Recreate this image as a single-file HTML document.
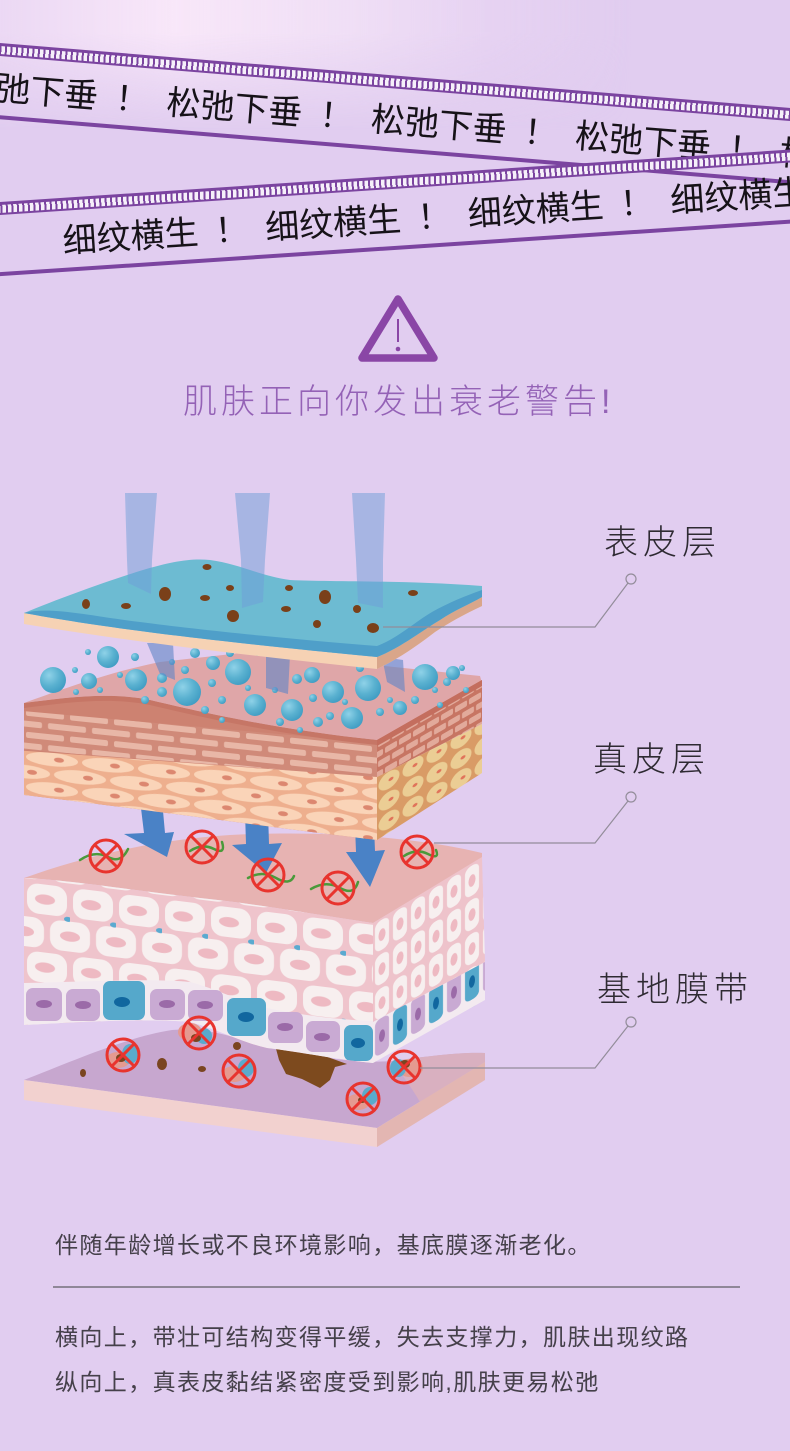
<!DOCTYPE html>
<html><head><meta charset="utf-8">
<style>
html,body{margin:0;padding:0;}
body{width:790px;height:1451px;position:relative;overflow:hidden;background:#e1cdf0;font-family:"Liberation Sans","Noto Sans CJK SC",sans-serif;}
.topglow{position:absolute;left:0;top:0;width:790px;height:130px;
background:linear-gradient(90deg,rgba(246,228,248,.5) 0%,rgba(249,232,249,.95) 22%,rgba(244,228,247,.75) 45%,rgba(236,216,244,.5) 62%,rgba(225,205,240,0) 80%);
-webkit-mask-image:linear-gradient(to bottom,#000 0%,#000 25%,transparent 100%);mask-image:linear-gradient(to bottom,#000 0%,#000 25%,transparent 100%);}
.band{position:absolute;left:-20px;width:860px;height:80px;transform-origin:20px 0;}
.stripe{position:absolute;left:0;top:0;width:100%;height:13px;background:#7b44a0;}
.stripe:after{content:"";position:absolute;left:0;top:2.5px;width:100%;height:8px;background:repeating-linear-gradient(90deg,#f6f0fa 0 3.5px,transparent 3.5px 5.5px);}
.bline{position:absolute;left:0;width:100%;height:4px;background:#7b44a0;}
.btxt{position:absolute;white-space:nowrap;font-size:34px;line-height:34px;height:34px;color:#161218;font-family:"Liberation Sans","Noto Sans CJK SC",sans-serif;}
.btxt span{display:inline-block;}
.w{width:136px;}
.ex{text-align:center;}
.t{position:absolute;white-space:nowrap;font-family:"Liberation Sans","Noto Sans CJK SC",sans-serif;}
.svg{position:absolute;left:0;top:0;}
</style></head>
<body>
<div class="topglow"></div>

<!-- band 1 -->
<div class="band" style="top:43px;transform:rotate(4.7deg);">
  <div class="stripe"></div>
  <div class="btxt" style="left:-14px;top:29px;"><span class="w">松弛下垂</span><span class="ex" style="width:69px">！</span><span class="w">松弛下垂</span><span class="ex" style="width:69px">！</span><span class="w">松弛下垂</span><span class="ex" style="width:69px">！</span><span class="w">松弛下垂</span><span class="ex" style="width:69px">！</span><span class="w">松弛下垂</span></div>
  <div class="bline" style="top:72px"></div>
</div>
<!-- band 2 -->
<div class="band" style="top:202px;transform:rotate(-3.8deg);">
  <div class="stripe"></div>
  <div class="btxt" style="left:80px;top:27px;"><span class="w">细纹横生</span><span class="ex" style="width:67px">！</span><span class="w">细纹横生</span><span class="ex" style="width:67px">！</span><span class="w">细纹横生</span><span class="ex" style="width:67px">！</span><span class="w">细纹横生</span></div>
  <div class="bline" style="top:70px"></div>
</div>

<svg class="svg" width="790" height="1451" viewBox="0 0 790 1451" xmlns="http://www.w3.org/2000/svg">
<defs>
  <radialGradient id="bub" cx="0.35" cy="0.32" r="0.75">
    <stop offset="0" stop-color="#8fd2e8"/><stop offset="0.55" stop-color="#5ab1d0"/><stop offset="1" stop-color="#3e9bc2"/>
  </radialGradient>
  <pattern id="wc" patternUnits="userSpaceOnUse" width="46" height="68" patternTransform="translate(24,880) skewY(7)">
    <rect width="46" height="68" fill="#efc4cc"/>
    <rect x="3" y="2" width="40" height="30" rx="11" fill="#f7efef"/>
    <ellipse cx="21" cy="17" rx="10" ry="5" fill="#eeb9c2"/>
    <rect x="-20" y="36" width="40" height="30" rx="11" fill="#f7efef"/>
    <rect x="26" y="36" width="40" height="30" rx="11" fill="#f7efef"/>
    <ellipse cx="0" cy="51" rx="10" ry="5" fill="#eeb9c2"/>
    <ellipse cx="46" cy="51" rx="10" ry="5" fill="#eeb9c2"/>
    <ellipse cx="44" cy="34" rx="4" ry="2.5" fill="#5aaad0"/>
  </pattern>
  <pattern id="rc" patternUnits="userSpaceOnUse" width="18" height="34" patternTransform="translate(373,923) skewY(-31)">
    <rect width="18" height="34" fill="#eec3cb"/>
    <rect x="2" y="2" width="14" height="30" rx="6" fill="#f7efef"/>
    <ellipse cx="9" cy="17" rx="3.5" ry="6" fill="#eeb9c2"/>
  </pattern>
  <pattern id="rp" patternUnits="userSpaceOnUse" width="36" height="44" patternTransform="translate(373,1021) skewY(-31)">
    <rect width="36" height="44" fill="#f3eaf0"/>
    <rect x="2" y="2" width="14" height="36" rx="5" fill="#c9aad3"/>
    <ellipse cx="9" cy="20" rx="3" ry="6" fill="#9b6aa8"/>
    <rect x="20" y="2" width="14" height="36" rx="5" fill="#55a8cb"/>
    <ellipse cx="27" cy="20" rx="3" ry="6" fill="#11679f"/>
  </pattern>
  <pattern id="br" patternUnits="userSpaceOnUse" width="44" height="22" patternTransform="translate(24,707) skewY(6)">
    <rect width="44" height="22" fill="#d08a79"/>
    <rect x="2" y="2.5" width="38" height="6" rx="2" fill="#e8b7a7"/>
    <rect x="-20" y="13.5" width="38" height="6" rx="2" fill="#e8b7a7"/>
    <rect x="24" y="13.5" width="38" height="6" rx="2" fill="#e8b7a7"/>
  </pattern>
  <pattern id="pc" patternUnits="userSpaceOnUse" width="56" height="30" patternTransform="translate(24,749) skewY(6)">
    <rect width="56" height="30" fill="#eeaf8e"/>
    <ellipse cx="28" cy="7.5" rx="26" ry="6.8" fill="#fad4b8"/>
    <ellipse cx="0" cy="22.5" rx="26" ry="6.8" fill="#fad4b8"/>
    <ellipse cx="56" cy="22.5" rx="26" ry="6.8" fill="#fad4b8"/>
    <ellipse cx="35" cy="7.5" rx="5" ry="2.4" fill="#dc8770"/>
    <ellipse cx="8" cy="22.5" rx="5" ry="2.4" fill="#dc8770"/>
  </pattern>
  <pattern id="brr" patternUnits="userSpaceOnUse" width="14" height="20" patternTransform="translate(377,740) skewY(-30)">
    <rect width="14" height="20" fill="#c77563"/>
    <rect x="1" y="2" width="12" height="6" rx="1.5" fill="#e2aa9b"/>
    <rect x="-6" y="12" width="12" height="6" rx="1.5" fill="#e2aa9b"/>
    <rect x="8" y="12" width="12" height="6" rx="1.5" fill="#e2aa9b"/>
  </pattern>
  <pattern id="yc" patternUnits="userSpaceOnUse" width="24" height="20" patternTransform="translate(377,777) skewY(-30)">
    <rect width="24" height="20" fill="#d99b66"/>
    <ellipse cx="12" cy="10" rx="10.5" ry="8.5" fill="#ebcd94"/>
    <ellipse cx="14" cy="10" rx="2.5" ry="1.6" fill="#e0735a"/>
  </pattern>
  <clipPath id="f3"><path d="M24,878 C70,880 130,890 200,898 C250,903 300,912 373,923 L373,1063 C340,1060 300,1052 267,1048 C240,1042 220,1030 190,1022 C150,1018 80,1022 24,1025 Z"/></clipPath>
  <clipPath id="f2"><path d="M24,703 C70,697 110,692 150,700 C200,712 280,730 377,740 L377,840 C260,826 120,806 24,795 Z"/></clipPath>
  <g id="nx">
    <circle r="16" fill="none" stroke="#e8342e" stroke-width="3"/>
    <line x1="-11" y1="-11" x2="11" y2="11" stroke="#e8342e" stroke-width="3"/>
    <line x1="-11" y1="11" x2="11" y2="-11" stroke="#e8342e" stroke-width="3"/>
  </g>
</defs>

<!-- warning triangle -->
<path d="M398,299 L362,358 L434,358 Z" fill="none" stroke="#8a46a6" stroke-width="7.5" stroke-linejoin="round"/>
<line x1="398" y1="319" x2="398" y2="342" stroke="#8a46a6" stroke-width="2"/>
<circle cx="398" cy="349" r="2.3" fill="#8a46a6"/>

<!-- LAYER 4 -->
<path d="M24,1080 C70,1062 130,1036 172,1030 C220,1026 250,1046 300,1054 C340,1060 365,1063 392,1061 C430,1056 460,1052 485,1053 L485,1062 L377,1128 Z" fill="#c7a7cf"/>
<path d="M392,1061 C430,1056 460,1052 485,1053 L485,1062 L420,1102 C410,1085 400,1072 392,1061 Z" fill="#d9b0c0"/>
<path d="M24,1080 L377,1128 L377,1147 L24,1100 Z" fill="#f2d1cf"/>
<path d="M377,1128 L485,1062 L485,1080 L377,1147 Z" fill="#e3b6b2"/>
<ellipse cx="83" cy="1073" rx="3" ry="4" fill="#7a4520"/>
<ellipse cx="162" cy="1064" rx="5" ry="6" fill="#7a4520"/>
<ellipse cx="202" cy="1069" rx="4" ry="3" fill="#7a4520"/>
<ellipse cx="237" cy="1046" rx="4" ry="4" fill="#7a4520"/>
<path d="M275,1045 L300,1047 L322,1055 L347,1064 L335,1067 L330,1080 L320,1088 L302,1079 L286,1074 L279,1060 Z" fill="#7d4a1e"/>

<!-- LAYER 3 -->
<path d="M24,878 C80,858 150,840 230,835 C330,830 420,838 482,853 L482,858 L373,923 C300,912 250,903 200,898 C130,890 70,880 24,878 Z" fill="#e7b3b2"/>
<g clip-path="url(#f3)">
  <rect x="20" y="870" width="360" height="200" fill="url(#wc)"/>
  <path d="M24,983 C80,982 150,978 190,982 C220,990 240,1002 267,1008 C300,1015 340,1020 373,1021 L373,1063 C340,1060 300,1052 267,1048 C240,1042 220,1030 190,1022 C150,1018 80,1022 24,1025 Z" fill="#f3eaf0"/>
  <g>
    <rect x="26" y="988" width="36" height="33" rx="7" fill="#c9aad3"/><ellipse cx="44" cy="1004" rx="8" ry="4" fill="#9b6aa8"/>
    <rect x="66" y="989" width="34" height="32" rx="7" fill="#c9aad3"/><ellipse cx="83" cy="1005" rx="8" ry="4" fill="#9b6aa8"/>
    <rect x="103" y="981" width="42" height="39" rx="7" fill="#55a8cb"/><ellipse cx="122" cy="1002" rx="8" ry="5" fill="#11679f"/>
    <rect x="150" y="989" width="35" height="31" rx="7" fill="#c9aad3"/><ellipse cx="167" cy="1004" rx="8" ry="4" fill="#9b6aa8"/>
    <rect x="188" y="990" width="35" height="31" rx="7" fill="#c9aad3"/><ellipse cx="205" cy="1005" rx="8" ry="4" fill="#9b6aa8"/>
    <rect x="227" y="998" width="39" height="38" rx="7" fill="#55a8cb"/><ellipse cx="246" cy="1017" rx="8" ry="5" fill="#11679f"/>
    <rect x="268" y="1012" width="35" height="31" rx="7" fill="#c9aad3"/><ellipse cx="285" cy="1027" rx="8" ry="4" fill="#9b6aa8"/>
    <rect x="306" y="1021" width="34" height="31" rx="7" fill="#c9aad3"/><ellipse cx="322" cy="1037" rx="8" ry="4" fill="#9b6aa8"/>
    <rect x="344" y="1025" width="29" height="36" rx="7" fill="#55a8cb"/><ellipse cx="358" cy="1043" rx="7" ry="5" fill="#11679f"/>
  </g>
</g>
<path d="M373,923 L482,857 L485,962 L373,1022 Z" fill="url(#rc)"/>
<path d="M373,1022 L485,962 L485,1000 L373,1063 Z" fill="url(#rp)"/>

<!-- arrows -->
<path d="M140,800 L162,800 L165,833 L174,832 L167,857 L124,834 L144,833 Z" fill="#4a82c6"/>
<path d="M245,812 L268,812 L269,844 L282,843 L266,873 L232,845 L246,844 Z" fill="#4a82c6"/>
<path d="M355,826 L374,826 L375,851 L385,850 L370,887 L346,852 L356,852 Z" fill="#4a82c6"/>

<!-- green squiggles + top circles -->
<g fill="none" stroke="#4a9a3a" stroke-width="2.5" stroke-linecap="round">
  <path d="M80,860 Q95,850 108,857 T128,849"/>
  <path d="M190,851 Q202,843 214,849 T222,842"/>
  <path d="M248,878 Q262,870 276,878 T294,876"/>
  <path d="M311,889 Q326,880 340,888 T358,882"/>
  <path d="M404,856 Q416,848 428,854 T436,850"/>
</g>
<use href="#nx" x="106" y="856"/>
<use href="#nx" x="202" y="847"/>
<use href="#nx" x="268" y="875"/>
<use href="#nx" x="338" y="888"/>
<use href="#nx" x="417" y="852"/>

<!-- LAYER 2 -->
<path d="M24,703 C60,690 110,672 160,662 L250,652 L480,676 L482,683 L377,740 C280,730 200,712 150,700 C110,692 70,697 24,703 Z" fill="#dfa6a8"/>
<g clip-path="url(#f2)">
  <rect x="20" y="690" width="360" height="160" fill="#cd8271"/>
  <path d="M0,709 L390,744 L390,778 L0,748 Z" fill="url(#br)"/>
  <path d="M0,749 L390,778 L390,850 L0,850 Z" fill="url(#pc)"/>
  <path d="M24,703 C70,697 110,692 150,700 C200,712 280,730 377,740 L377,745 C280,735 200,717 150,705 C110,697 70,702 24,708 Z" fill="#c67666"/>
</g>
<path d="M377,740 L482,680 L482,724 L377,777 Z" fill="url(#brr)"/>
<path d="M377,777 L482,724 L482,773 L377,840 Z" fill="url(#yc)"/>
<path d="M377,740 L482,680 L482,686 L377,746 Z" fill="#c46e5e"/>

<!-- bubbles -->
<g fill="url(#bub)">
  <circle cx="53" cy="680" r="13"/><circle cx="108" cy="657" r="11"/><circle cx="136" cy="680" r="11"/>
  <circle cx="89" cy="681" r="8"/><circle cx="187" cy="692" r="14"/><circle cx="238" cy="672" r="13"/>
  <circle cx="255" cy="705" r="11"/><circle cx="292" cy="710" r="11"/><circle cx="333" cy="692" r="11"/>
  <circle cx="352" cy="718" r="11"/><circle cx="368" cy="688" r="13"/><circle cx="425" cy="677" r="13"/>
  <circle cx="312" cy="675" r="8"/><circle cx="213" cy="663" r="7"/><circle cx="400" cy="708" r="7"/>
  <circle cx="453" cy="673" r="7"/><circle cx="135" cy="657" r="4"/><circle cx="195" cy="653" r="5"/>
  <circle cx="162" cy="678" r="5"/><circle cx="162" cy="692" r="5"/><circle cx="212" cy="683" r="4"/>
  <circle cx="230" cy="653" r="4"/><circle cx="297" cy="679" r="5"/><circle cx="313" cy="698" r="4"/>
  <circle cx="75" cy="670" r="3"/><circle cx="100" cy="690" r="3"/><circle cx="120" cy="675" r="3"/>
  <circle cx="145" cy="700" r="4"/><circle cx="172" cy="662" r="3"/><circle cx="205" cy="710" r="4"/>
  <circle cx="222" cy="700" r="4"/><circle cx="248" cy="688" r="3"/><circle cx="275" cy="690" r="3"/>
  <circle cx="280" cy="722" r="4"/><circle cx="300" cy="730" r="3"/><circle cx="318" cy="722" r="5"/>
  <circle cx="330" cy="716" r="4"/><circle cx="345" cy="702" r="3"/><circle cx="360" cy="668" r="4"/>
  <circle cx="380" cy="712" r="4"/><circle cx="390" cy="700" r="3"/><circle cx="415" cy="700" r="4"/>
  <circle cx="435" cy="690" r="3"/><circle cx="447" cy="682" r="4"/><circle cx="462" cy="668" r="3"/>
  <circle cx="466" cy="690" r="3"/><circle cx="330" cy="655" r="4"/><circle cx="348" cy="648" r="4"/>
  <circle cx="185" cy="670" r="4"/><circle cx="258" cy="652" r="4"/><circle cx="88" cy="652" r="3"/>
  <circle cx="76" cy="692" r="3"/><circle cx="222" cy="720" r="3"/><circle cx="440" cy="705" r="3"/>
</g>

<!-- lower beam segments -->
<g fill="#5f86c6" opacity="0.6">
  <path d="M147,643 L173,643 L175,680 L160,674 Z"/>
  <path d="M266,655 L290,655 L288,694 L266,688 Z"/>
  <path d="M382,657 L403,660 L405,692 L387,682 Z"/>
</g>

<!-- LAYER 1 sheet -->
<path d="M24,613 C100,627 200,640 377,657 C400,648 420,632 440,620 C455,610 470,604 482,597 L482,606 C465,614 450,622 435,632 C418,645 400,658 377,669 C250,656 120,640 24,624 Z" fill="#f6d2b4"/>
<path d="M377,657 C400,648 420,632 440,620 C455,610 470,604 482,597 L482,606 C465,614 450,622 435,632 C418,645 400,658 377,669 Z" fill="#d9a68a"/>
<path d="M24,613 C60,598 110,580 143,570 C170,562 190,558 210,560 C240,564 260,576 290,580 C330,582 400,580 482,586 L482,597 C470,604 455,610 440,620 C420,632 400,648 377,657 C200,640 100,627 24,613 Z" fill="#6dbbd2"/>
<path d="M24,613 C100,627 200,640 377,657 C400,648 420,632 440,620 C455,610 470,604 482,597 L482,590 C465,596 450,602 432,612 C412,624 398,638 377,646 C300,640 200,630 140,622 C90,616 50,606 24,613 Z" fill="#4f9fc9"/>
<g fill="#7a4019">
  <ellipse cx="207" cy="567" rx="4.5" ry="3"/><ellipse cx="86" cy="604" rx="4" ry="5"/><ellipse cx="126" cy="606" rx="5" ry="3"/>
  <ellipse cx="165" cy="594" rx="6" ry="7"/><ellipse cx="205" cy="598" rx="5" ry="3"/><ellipse cx="230" cy="588" rx="4" ry="3"/>
  <ellipse cx="233" cy="616" rx="6" ry="6"/><ellipse cx="289" cy="588" rx="4" ry="3"/><ellipse cx="325" cy="597" rx="6" ry="7"/>
  <ellipse cx="286" cy="609" rx="5" ry="3"/><ellipse cx="357" cy="609" rx="4" ry="4"/><ellipse cx="317" cy="624" rx="4" ry="4"/>
  <ellipse cx="373" cy="628" rx="6" ry="5"/><ellipse cx="413" cy="593" rx="5" ry="3"/>
</g>
<!-- upper beams -->
<g fill="#6f9fd8" opacity="0.5">
  <path d="M125,493 L157,493 L152,560 L151,594 L128,583 L127,560 Z"/>
  <path d="M235,493 L270,493 L265,560 L263,602 L242,608 L241,560 Z"/>
  <path d="M352,493 L385,493 L383,560 L383,608 L358,603 L356,560 Z"/>
</g>

<!-- lower circles with cells -->
<g>
  <ellipse cx="118" cy="1060" rx="12" ry="8" fill="#e59a90"/><ellipse cx="130" cy="1054" rx="8" ry="10" fill="#5aaacc"/><ellipse cx="121" cy="1058" rx="5" ry="4" fill="#7a4520"/>
  <ellipse cx="190" cy="1032" rx="12" ry="9" fill="#e59a90"/><ellipse cx="204" cy="1036" rx="8" ry="8" fill="#5aaacc"/><ellipse cx="196" cy="1038" rx="5" ry="4" fill="#7a4520"/>
  <ellipse cx="234" cy="1074" rx="12" ry="8" fill="#e59a90"/><ellipse cx="246" cy="1068" rx="8" ry="9" fill="#5aaacc"/>
  <ellipse cx="410" cy="1068" rx="13" ry="9" fill="#e59a90"/><ellipse cx="398" cy="1068" rx="8" ry="9" fill="#5aaacc"/><ellipse cx="405" cy="1064" rx="5" ry="4" fill="#7a4520"/>
  <ellipse cx="358" cy="1102" rx="12" ry="8" fill="#e59a90"/><ellipse cx="370" cy="1096" rx="8" ry="9" fill="#5aaacc"/><ellipse cx="362" cy="1100" rx="4" ry="3" fill="#7a4520"/>
</g>
<use href="#nx" x="123" y="1055"/>
<use href="#nx" x="199" y="1033"/>
<use href="#nx" x="239" y="1071"/>
<use href="#nx" x="404" y="1067"/>
<use href="#nx" x="363" y="1099"/>

<!-- leader lines -->
<g fill="none" stroke="#938d9a" stroke-width="1.2">
  <polyline points="383,627 595,627 628,583"/>
  <circle cx="631" cy="579" r="5"/>
  <polyline points="434,843 595,843 628,801"/>
  <circle cx="631" cy="797" r="5"/>
  <polyline points="420,1068 595,1068 628,1026"/>
  <circle cx="631" cy="1022" r="5"/>
</g>
</svg>

<div class="t" style="left:183px;top:385px;font-size:34px;line-height:34px;letter-spacing:4px;color:#9462b6;font-weight:300;">肌肤正向你发出衰老警告!</div>

<div class="t" style="left:604px;top:526px;font-size:34px;line-height:34px;letter-spacing:5px;color:#2e2a32;font-weight:300;">表皮层</div>
<div class="t" style="left:593px;top:743px;font-size:34px;line-height:34px;letter-spacing:5px;color:#2e2a32;font-weight:300;">真皮层</div>
<div class="t" style="left:597px;top:973px;font-size:34px;line-height:34px;letter-spacing:5px;color:#2e2a32;font-weight:300;">基地膜带</div>

<div class="t" style="left:55px;top:1233px;font-size:23px;line-height:24px;letter-spacing:1.4px;color:#45404a;">伴随年龄增长或不良环境影响，基底膜逐渐老化。</div>
<div style="position:absolute;left:53px;top:1286px;width:687px;height:2px;background:#8f8798;"></div>
<div class="t" style="left:55px;top:1325px;font-size:23px;line-height:24px;letter-spacing:1.4px;color:#45404a;">横向上，带壮可结构变得平缓，失去支撑力，肌肤出现纹路</div>
<div class="t" style="left:55px;top:1370px;font-size:23px;line-height:24px;letter-spacing:1.4px;color:#45404a;">纵向上，真表皮黏结紧密度受到影响,肌肤更易松弛</div>
</body></html>
